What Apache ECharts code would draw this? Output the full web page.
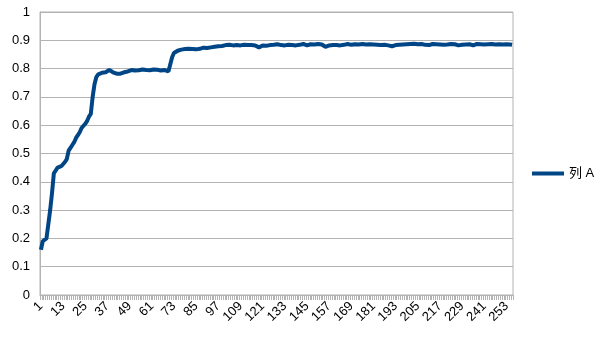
<!DOCTYPE html>
<html>
<head>
<meta charset="utf-8">
<script src="https://cdn.jsdelivr.net/npm/echarts@6/dist/echarts.min.js"></script>
<style>html,body{margin:0;padding:0;background:#fff}#c{width:605px;height:340px}</style>
</head>
<body>
<div id="c"></div>
<script>
var seriesName = '列 A';
var yTicks = [0, 0.1, 0.2, 0.3, 0.4, 0.5, 0.6, 0.7, 0.8, 0.9, 1];
var valuesA = [
0.16,0.19,0.19,0.20,0.25,0.30,0.36,0.43,0.44,0.45,
0.45,0.455,0.455,0.47,0.48,0.51,0.52,0.53,0.54,0.555,
0.565,0.575,0.59,0.595,0.605,0.615,0.63,0.64,0.70,0.745,
0.77,0.78,0.783,0.785,0.785,0.787,0.79,0.795,0.79,0.787,
0.785,0.782,0.783,0.782,0.785,0.787,0.79,0.79,0.792,0.795,
0.795,0.793,0.796,0.794,0.795,0.797,0.793,0.795,0.796,0.794,
0.795,0.797,0.794,0.796,0.795,0.793,0.797,0.795,0.79,0.79,
0.795,0.84,0.855,0.86,0.863,0.865,0.867,0.866,0.869,0.868,
0.87,0.872,0.869,0.871,0.868,0.873,0.87,0.872,0.874,0.871,
0.873,0.872,0.875,0.875,0.877,0.876,0.879,0.878,0.88,0.88,
0.883,0.882,0.884,0.883,0.882,0.884,0.883,0.885,0.882,0.883,
0.884,0.882,0.883,0.885,0.883,0.882,0.882,0.876,0.875,0.878,
0.882,0.884,0.881,0.885,0.883,0.887,0.884,0.882,0.886,0.884,
0.883,0.886,0.882,0.885,0.884,0.887,0.883,0.885,0.882,0.886,
0.884,0.883,0.887,0.885,0.882,0.884,0.886,0.883,0.885,0.884,
0.887,0.882,0.885,0.878,0.877,0.88,0.882,0.884,0.883,0.886,
0.883,0.885,0.882,0.886,0.884,0.883,0.887,0.885,0.884,0.882,
0.886,0.883,0.885,0.884,0.887,0.882,0.885,0.884,0.886,0.883,
0.885,0.882,0.884,0.887,0.883,0.885,0.884,0.886,0.882,0.885,
0.879,0.878,0.883,0.886,0.884,0.887,0.885,0.888,0.886,0.884,
0.887,0.885,0.888,0.884,0.886,0.883,0.887,0.885,0.884,0.886,
0.883,0.885,0.887,0.884,0.886,0.882,0.885,0.887,0.884,0.886,
0.885,0.883,0.887,0.884,0.886,0.885,0.882,0.886,0.884,0.887,
0.885,0.883,0.886,0.884,0.882,0.885,0.887,0.883,0.886,0.884,
0.885,0.882,0.886,0.884,0.887,0.883,0.885,0.884,0.886,0.883,
0.885,0.884,0.886,0.883,0.885,0.884
];
var categories = valuesA.map(function (_, i) { return String(i + 1); });

var font = '"Liberation Sans", Arial, "Noto Sans CJK SC", sans-serif';
var chart = echarts.init(document.getElementById('c'), null, {renderer: 'canvas'});
chart.setOption({
  animation: false,
  textStyle: {fontFamily: font},
  grid: {left: 40, right: 92, top: 12, bottom: 45, show: true, borderColor: '#b3b3b3', borderWidth: 1, containLabel: false},
  legend: {
    data: [seriesName], left: 527, top: 162, orient: 'vertical',
    icon: 'rect', itemWidth: 32, itemHeight: 4, itemGap: 6,
    textStyle: {fontSize: 13, color: '#000', fontFamily: font}
  },
  xAxis: {
    type: 'category', data: categories, boundaryGap: true,
    axisLine: {lineStyle: {color: '#b3b3b3', width: 1}},
    axisTick: {show: true, interval: 0, length: 5, lineStyle: {color: '#b3b3b3'}},
    axisLabel: {interval: 11, rotate: 45, fontSize: 13, color: '#000', margin: 9, fontFamily: font},
    splitLine: {show: false}
  },
  yAxis: {
    type: 'value', min: yTicks[0], max: yTicks[yTicks.length - 1], interval: 0.1,
    axisLine: {show: true, lineStyle: {color: '#b3b3b3'}},
    axisTick: {show: false},
    axisLabel: {fontSize: 13, color: '#000', margin: 10, fontFamily: font,
      formatter: function (v) { return String(Math.round(v * 10) / 10); }},
    splitLine: {show: true, lineStyle: {color: '#b3b3b3', width: 1}}
  },
  series: [{
    name: seriesName, type: 'line', data: valuesA, symbol: 'none', showSymbol: false,
    lineStyle: {color: '#004586', width: 4}, itemStyle: {color: '#004586'}
  }]
});
</script>
</body>
</html>
